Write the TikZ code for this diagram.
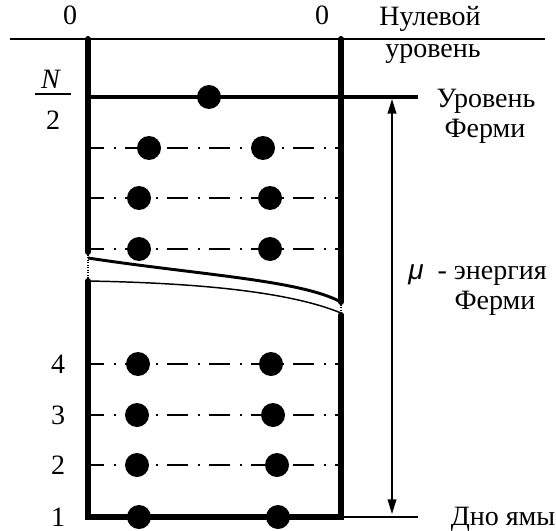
\documentclass[tikz,border=0pt]{standalone}
\usepackage{fontspec}
\setmainfont{Liberation Serif}
\newfontfamily\serifcyr{Liberation Serif}
\newfontfamily\sansmu{Liberation Sans}
\usetikzlibrary{arrows.meta}
\begin{document}
\begin{tikzpicture}[x=0.75pt,y=-0.75pt,
  lbl/.style={inner sep=0pt, font=\serifcyr\fontsize{21}{25}\selectfont},
  wallline/.style={line width=4.5pt},
  fermiline/.style={line width=3pt},
  zeroline/.style={line width=2pt},
  thinline/.style={line width=1.2pt},
  dashdot/.style={line width=1.5pt, dash pattern=on 15.75pt off 7.5pt on 1.5pt off 6.75pt, dash phase=3.75pt},
  electron/.style={circle, fill=black, inner sep=0pt, minimum size=18pt},
  gapline/.style={line width=0.9pt, densely dotted},
  dblarrow/.style={{Triangle[length=11pt,width=6.5pt]}-{Triangle[length=11pt,width=6.5pt]}},
]
\useasboundingbox (0,0) rectangle (556,531);
% coordinates
\coordinate (zl) at (10,39);
\coordinate (zr) at (545,39);
\coordinate (LT) at (88,39);
\coordinate (LU) at (88,252);
\coordinate (LL) at (88,281);
\coordinate (LB) at (88,517);
\coordinate (RT) at (341,39);
\coordinate (RU) at (341,302);
\coordinate (RL) at (341,315);
\coordinate (RB) at (341,517);
\coordinate (FL) at (88,97);
\coordinate (FR) at (418,97);
\coordinate (BR) at (418,517);
\coordinate (AT) at (392,99);
\coordinate (AB) at (392,514);
\coordinate (CL1) at (88,258);
\coordinate (CL2) at (88,281);
\coordinate (CR2) at (341,313);
% zero level
\draw[zeroline] (zl) -- (zr);
% dash-dot levels
\foreach \n/\yy in {1/148,2/198,3/249,4/364,5/415,6/465}{
  \coordinate (l\n) at (88,\yy);
  \coordinate (r\n) at (341,\yy);
  \draw[dashdot] (l\n) -- (r\n);
}
% Fermi level
\draw[fermiline] (FL) -- (FR);
% bottom extension
\draw[thinline] (RB) -- (BR);
% walls
\draw[wallline, line cap=round] (LT) -- (LU);
\draw[wallline, line cap=round] (RT) -- (RU);
\draw[wallline, line cap=round, line join=miter] (LL) -- (LB) -- (RB) -- (RL);
% break curves
\draw[line width=2.2pt] (CL1) .. controls (200,275) and (300,280) .. (RU);
\draw[line width=1.1pt] (CL2) .. controls (200,283) and (290,292) .. (CR2);
\draw[gapline] (LU) -- (LL);
\draw[gapline] (RU) -- (RL);
% arrow
\draw[thinline, dblarrow] (AT) -- (AB);
% electrons
\node[electron] (eF) at (209,97) {};
\node[electron] (e1a) at (149,148) {};
\node[electron] (e1b) at (263,148) {};
\node[electron] (e2a) at (139,198) {};
\node[electron] (e2b) at (270,198) {};
\node[electron] (e3a) at (139,249) {};
\node[electron] (e3b) at (270,249) {};
\node[electron] (e4a) at (138,364) {};
\node[electron] (e4b) at (271,364) {};
\node[electron] (e5a) at (137,415) {};
\node[electron] (e5b) at (273,415) {};
\node[electron] (e6a) at (137,465) {};
\node[electron] (e6b) at (277,465) {};
\node[electron] (e7a) at (139,517) {};
\node[electron] (e7b) at (278,517) {};
% labels
\node[lbl] (z0l) at (70,15) {0};
\node[lbl] (z0r) at (322,15) {0};
\node[lbl] (nul1) at (430,19) {Нулевой};
\node[lbl] (nul2) at (433,54) {уровень};
\node[lbl] (uf1) at (486,101) {Уровень};
\node[lbl] (uf2) at (485,131) {Ферми};
\node[lbl, anchor=west] (mu) at (408,275) {{\sansmu\itshape μ}\ \ - энергия};
\node[lbl] (mu2) at (495,303) {Ферми};
\node[lbl] (dno) at (503,519) {Дно ямы};
\node[lbl] (nN) at (51,79) {\textit{N}};
\node[lbl] (n2) at (53,120) {2};
\coordinate (fb1) at (35,94);
\coordinate (fb2) at (71,94);
\draw[line width=1.5pt] (fb1) -- (fb2);
\node[lbl] (k4) at (58,364) {4};
\node[lbl] (k3) at (58,415) {3};
\node[lbl] (k2) at (58,465) {2};
\node[lbl] (k1) at (58,517) {1};
\end{tikzpicture}
\end{document}
